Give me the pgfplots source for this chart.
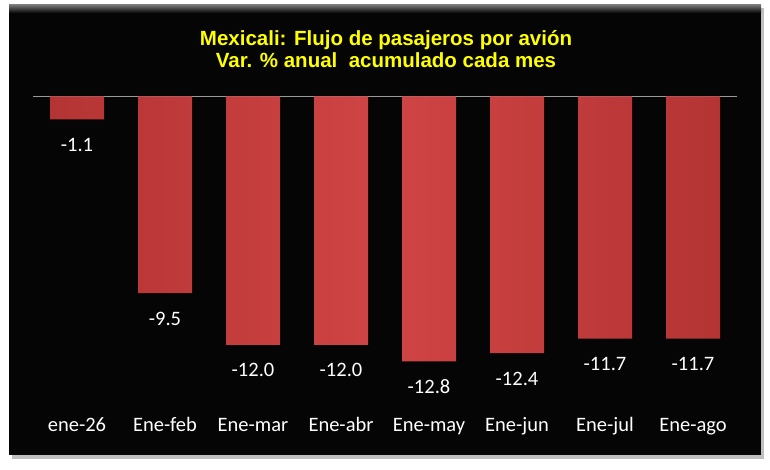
\documentclass[border=0pt]{standalone}
\usepackage{fontspec}
\setmainfont{Carlito}
\newfontfamily\titlefont{Liberation Sans}
\usepackage{pgfplots}
\pgfplotsset{compat=1.18}
\definecolor{barmid}{RGB}{208,68,68}
\definecolor{baredge}{RGB}{180,52,52}
\definecolor{ttl}{RGB}{255,255,0}
\begin{document}
\begin{tikzpicture}
  \fill[white] (0pt,0pt) rectangle (770pt,470pt);
  \fill[black!25] (12pt,11pt) rectangle (764pt,462pt);
  \fill[black!98] (9pt,15pt) rectangle (761pt,465pt);
  \shade[top color=black!55, bottom color=black!98] (9pt,457pt) rectangle (761pt,465pt);
  \node[text=ttl, align=center, font=\titlefont\bfseries\fontsize{20.5}{22.5}\selectfont]
    at (386pt,421pt) {Mexicali: Flujo de pasajeros por avión\\Var. \% anual\ \ acumulado cada mes};
  \begin{axis}[
      at={(33pt,63pt)}, anchor=south west,
      scale only axis, width=704pt, height=310.5pt,
      ybar, bar width=54pt,
      xmin=-0.5, xmax=7.5, ymin=-15, ymax=0,
      axis line style={draw=none},
      tick style={draw=none},
      ytick=\empty,
      extra y ticks={0}, extra y tick labels={},
      extra y tick style={grid=major, major grid style={black!40, line width=0.8pt}},
      xtick=data,
      xticklabels={ene-26,Ene-feb,Ene-mar,Ene-abr,Ene-may,Ene-jun,Ene-jul,Ene-ago},
      xticklabel style={anchor=base, yshift=-20pt, text=white, font=\fontsize{20.5}{24}\selectfont},
      clip=false,
      nodes near coords,
      /pgf/number format/.cd, fixed, fixed zerofill, precision=1, assume math mode=true, /pgfplots/.cd,
      every node near coord/.append style={anchor=base, yshift=-32pt, text=white, font=\fontsize{20.5}{24}\selectfont},
    ]
    \addplot[draw=none, left color=baredge, right color=baredge, middle color=barmid] coordinates {
      (0,-1.1) (1,-9.5) (2,-12.0) (3,-12.0) (4,-12.8) (5,-12.4) (6,-11.7) (7,-11.7)
    };
  \end{axis}
\end{tikzpicture}
\end{document}
